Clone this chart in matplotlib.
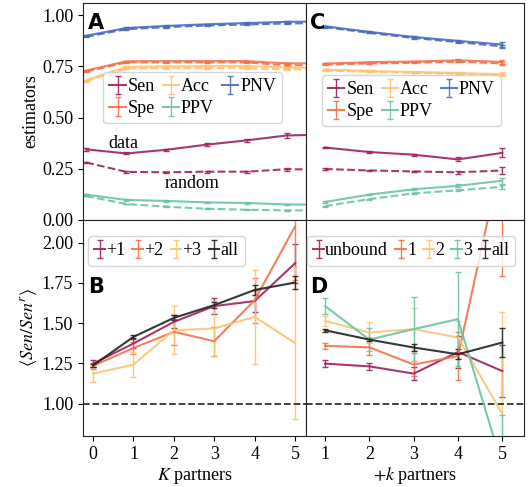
import numpy as np
import matplotlib
matplotlib.use("Agg")
import matplotlib.pyplot as plt

plt.rcParams['font.family'] = ['Liberation Serif', 'DejaVu Serif']
plt.rcParams['mathtext.fontset'] = 'stix'
plt.rcParams['font.size'] = 13

# --- colours ---
c_sen = '#a0215f'
c_spe = '#f4714a'
c_acc = '#fdc374'
c_ppv = '#6ac4a4'
c_pnv = '#4a6cbf'
c_all = '#222222'

# --- panel A: estimators vs K partners (data / random) ---
x_a = [0, 1, 2, 3, 4, 5, 6]
sen_a = [0.345, 0.325, 0.343, 0.368, 0.389, 0.413, 0.417]
sen_a_err = [0.006, 0.005, 0.005, 0.006, 0.008, 0.012, 0.012]
sen_a_rnd = [0.281, 0.235, 0.233, 0.236, 0.236, 0.248, 0.247]
spe_a = [0.730, 0.775, 0.776, 0.776, 0.776, 0.765, 0.765]
spe_a_rnd = [0.725, 0.770, 0.770, 0.770, 0.770, 0.755, 0.758]
acc_a = [0.683, 0.748, 0.750, 0.752, 0.752, 0.745, 0.745]
acc_a_rnd = [0.678, 0.740, 0.742, 0.742, 0.742, 0.735, 0.738]
ppv_a = [0.124, 0.098, 0.093, 0.086, 0.083, 0.076, 0.075]
ppv_a_rnd = [0.117, 0.078, 0.065, 0.055, 0.050, 0.047, 0.046]
pnv_a = [0.900, 0.938, 0.948, 0.956, 0.962, 0.968, 0.970]
pnv_a_rnd = [0.895, 0.932, 0.942, 0.950, 0.955, 0.960, 0.962]

# --- panel C: estimators vs +k partners ---
x_c = [1, 2, 3, 4, 5]
sen_c = [0.354, 0.332, 0.319, 0.296, 0.328]
sen_c_err = [0.004, 0.004, 0.005, 0.010, 0.022]
sen_c_rnd = [0.249, 0.242, 0.237, 0.233, 0.242]
spe_c = [0.764, 0.771, 0.774, 0.780, 0.772]
spe_c_rnd = [0.758, 0.765, 0.768, 0.773, 0.765]
acc_c = [0.735, 0.728, 0.723, 0.718, 0.712]
acc_c_rnd = [0.730, 0.724, 0.719, 0.714, 0.708]
ppv_c = [0.088, 0.124, 0.150, 0.167, 0.192]
ppv_c_rnd = [0.068, 0.102, 0.130, 0.145, 0.162]
ppv_c_err = [0.003, 0.004, 0.005, 0.008, 0.015]
pnv_c = [0.946, 0.919, 0.894, 0.875, 0.857]
pnv_c_rnd = [0.942, 0.914, 0.889, 0.869, 0.848]
pnv_c_err = [0.003, 0.003, 0.004, 0.006, 0.012]

# --- panel B: <Sen/Sen^r> vs K partners ---
x_b = [0, 1, 2, 3, 4, 5]
b_p1 = [1.249, 1.374, 1.508, 1.606, 1.637, 1.872]
b_p1_err = [0.02, 0.03, 0.04, 0.05, 0.07, 0.12]
b_p2 = [1.235, 1.346, 1.446, 1.388, 1.643, 2.10]
b_p2_err = [0.02, 0.04, 0.08, 0.09, 0.14, 0.33]
b_p3 = [1.187, 1.243, 1.456, 1.467, 1.539, 1.377]
b_p3_err = [0.05, 0.08, 0.15, 0.17, 0.29, 0.47]
b_all = [1.238, 1.415, 1.533, 1.612, 1.706, 1.752]
b_all_err = [0.01, 0.01, 0.015, 0.02, 0.03, 0.04]

# --- panel D: <Sen/Sen^r> vs +k partners ---
x_d = [1, 2, 3, 4, 5]
d_unb = [1.249, 1.232, 1.187, 1.321, 1.203]
d_unb_err = [0.02, 0.02, 0.04, 0.10, 0.16]
d_1 = [1.359, 1.350, 1.243, 1.296, 2.55]
d_1_err = [0.02, 0.05, 0.07, 0.15, 0.76]
d_2 = [1.514, 1.442, 1.463, 1.411, 0.938]
d_2_err = [0.03, 0.065, 0.13, 0.10, 0.63]
d_3 = [1.606, 1.398, 1.463, 1.525, 0.616]
d_3_err = [0.05, 0.07, 0.20, 0.29, 0.315]
d_all = [1.456, 1.398, 1.349, 1.307, 1.380]
d_all_err = [0.01, 0.01, 0.02, 0.03, 0.09]

fig = plt.figure(figsize=(5.29, 4.87), dpi=100)
L, M, R = 83 / 529, 306 / 529, 524 / 529
T, H, B = 1 - 3 / 487, 1 - 220 / 487, 1 - 436 / 487
axA = fig.add_axes([L, H, M - L, T - H])
axC = fig.add_axes([M, H, R - M, T - H])
axB = fig.add_axes([L, B, M - L, H - B])
axD = fig.add_axes([M, B, R - M, H - B])

eb = dict(capsize=2.5, elinewidth=1, lw=1.5, alpha=0.9)


def draw_est(ax, x, series):
    for name, y, yr, col, err in series:
        ax.errorbar(x, y, yerr=err, color=col, label=name, **eb)
        ax.errorbar(x, yr, yerr=np.array(err) * 0.7, color=col, ls='--', **eb)


small7 = [0.003] * 7
draw_est(axA, x_a, [
    ('Sen', sen_a, sen_a_rnd, c_sen, sen_a_err),
    ('Spe', spe_a, spe_a_rnd, c_spe, small7),
    ('Acc', acc_a, acc_a_rnd, c_acc, small7),
    ('PPV', ppv_a, ppv_a_rnd, c_ppv, small7),
    ('PNV', pnv_a, pnv_a_rnd, c_pnv, small7),
])
small5 = [0.003, 0.003, 0.003, 0.005, 0.01]
draw_est(axC, x_c, [
    ('Sen', sen_c, sen_c_rnd, c_sen, sen_c_err),
    ('Spe', spe_c, spe_c_rnd, c_spe, small5),
    ('Acc', acc_c, acc_c_rnd, c_acc, small5),
    ('PPV', ppv_c, ppv_c_rnd, c_ppv, ppv_c_err),
    ('PNV', pnv_c, pnv_c_rnd, c_pnv, pnv_c_err),
])

leg = dict(fontsize=13, handlelength=0.9, handletextpad=0.1, columnspacing=0.45,
           borderpad=0.35, labelspacing=0.25, borderaxespad=0)
axA.legend(ncol=3, loc='upper left', bbox_to_anchor=(0.09, 0.682), **leg)
axC.legend(ncol=3, loc='upper left', bbox_to_anchor=(0.073, 0.668), **leg)

axA.text(0.93, 0.376, 'data', ha='center', va='center', fontsize=13)
axA.text(2.64, 0.18, 'random', ha='center', va='center', fontsize=13)

axA.set_xlim(-0.08, 5.48)
axC.set_xlim(0.57, 5.49)
for ax in (axA, axC):
    ax.set_ylim(0, 1.06)
    ax.set_yticks([0, 0.25, 0.5, 0.75, 1.0])
    ax.tick_params(bottom=False, labelbottom=False)
axA.set_yticklabels(['0.00', '0.25', '0.50', '0.75', '1.00'])
axC.tick_params(left=False, labelleft=False)
axA.set_ylabel('estimators', labelpad=2)

# bottom panels
for y, e, col, name in [(b_p1, b_p1_err, c_sen, '+1'), (b_p2, b_p2_err, c_spe, '+2'),
                        (b_p3, b_p3_err, c_acc, '+3'), (b_all, b_all_err, c_all, 'all')]:
    axB.errorbar(x_b, y, yerr=e, color=col, label=name, **eb)
for y, e, col, name in [(d_unb, d_unb_err, c_sen, 'unbound'), (d_1, d_1_err, c_spe, '1'),
                        (d_2, d_2_err, c_acc, '2'), (d_3, d_3_err, c_ppv, '3'),
                        (d_all, d_all_err, c_all, 'all')]:
    axD.errorbar(x_d, y, yerr=e, color=col, label=name, **eb)

leg_b = dict(leg, handlelength=0.6, handletextpad=0.05, columnspacing=0.4)
for ax, x0 in [(axB, 0.022), (axD, 0.005)]:
    ax.axhline(1.0, color='#333333', ls='--', lw=1.3)
    ax.set_ylim(0.8, 2.14)
    ax.set_yticks([1.0, 1.25, 1.5, 1.75, 2.0])
    ax.legend(ncol=5, loc='upper left', bbox_to_anchor=(x0, 0.926), **leg_b)
axB.set_yticklabels(['1.00', '1.25', '1.50', '1.75', '2.00'])
axD.tick_params(left=False, labelleft=False)
axB.set_xlim(-0.25, 5.27)
axB.set_xticks(x_b)
axD.set_xlim(0.57, 5.49)
axD.set_xticks(x_d)
axB.set_xlabel('$K$ partners', labelpad=2)
axD.set_xlabel('$+k$ partners', labelpad=2)
axB.set_ylabel(r'$\langle Sen/Sen^r\rangle$', labelpad=2)

for ax in (axA, axB, axC, axD):
    for s in ax.spines.values():
        s.set_color('#222222')

lab = dict(fontsize=15, fontweight='bold', family='DejaVu Sans', va='top', ha='left')
axA.text(0.022, 0.955, 'A', transform=axA.transAxes, **lab)
axC.text(0.018, 0.955, 'C', transform=axC.transAxes, **lab)
axB.text(0.022, 0.735, 'B', transform=axB.transAxes, **lab)
axD.text(0.018, 0.735, 'D', transform=axD.transAxes, **lab)

fig.savefig('out.png', dpi=100)
